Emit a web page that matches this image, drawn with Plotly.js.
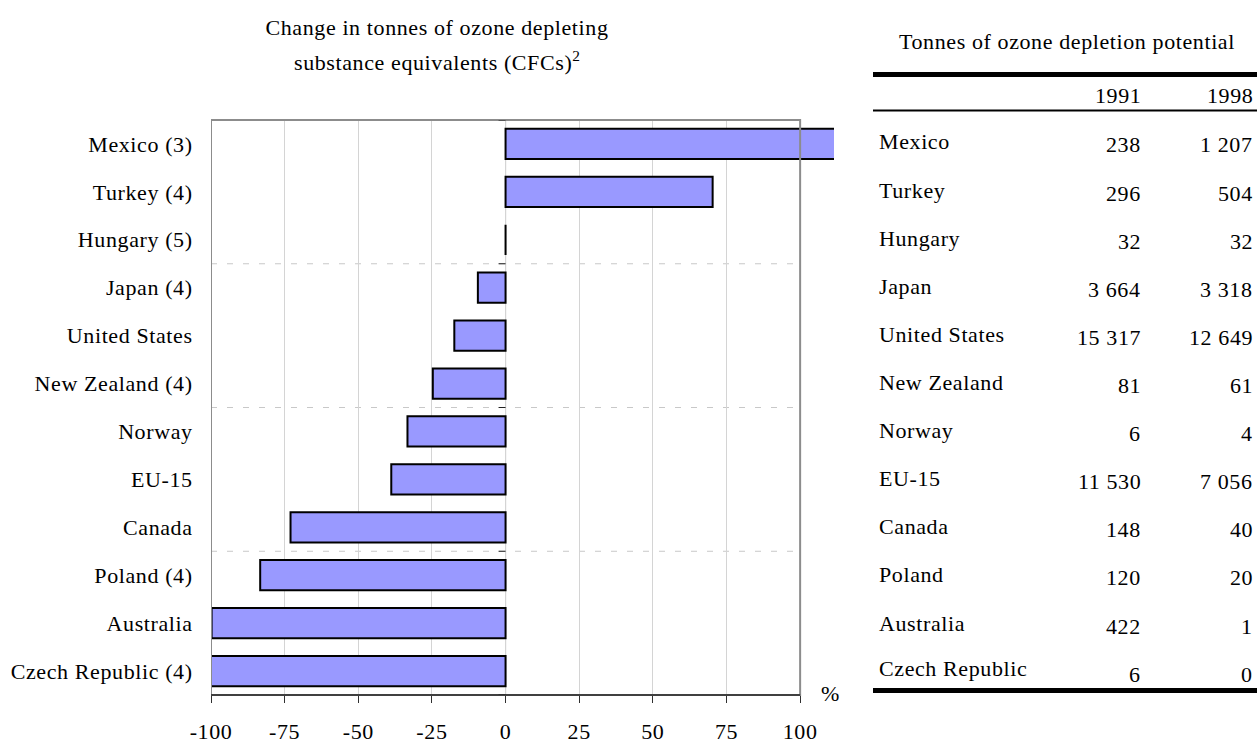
<!DOCTYPE html>
<html>
<head>
<meta charset="utf-8">
<script src="https://cdn.plot.ly/plotly-3.0.1.min.js"></script>
<style>
html,body{margin:0;padding:0;background:#fff;}
#chart{width:1257px;height:742px;}
svg text{letter-spacing:0.6px;}
</style>
</head>
<body>
<div id="chart"></div>
<script>
// Chart data
const barLabels = ["Mexico (3)", "Turkey (4)", "Hungary (5)", "Japan (4)", "United States", "New Zealand (4)",
                   "Norway", "EU-15", "Canada", "Poland (4)", "Australia", "Czech Republic (4)"];
const changePct = [407, 70.3, 0, -9.4, -17.4, -24.7, -33.3, -38.8, -73.0, -83.3, -99.8, -100];
const xTickVals = [-100, -75, -50, -25, 0, 25, 50, 75, 100];
const xTickText = ["-100", "-75", "-50", "-25", "0", "25", "50", "75", "100"];

// Table data
const tableCountries = ["Mexico", "Turkey", "Hungary", "Japan", "United States", "New Zealand",
                        "Norway", "EU-15", "Canada", "Poland", "Australia", "Czech Republic"];
const tonnes1991 = ["238", "296", "32", "3 664", "15 317", "81", "6", "11 530", "148", "120", "422", "6"];
const tonnes1998 = ["1 207", "504", "32", "3 318", "12 649", "61", "4", "7 056", "40", "20", "1", "0"];
const tableYears = ["1991", "1998"];
const separators = [2.5, 5.5, 8.5];

const FONT = "Liberation Serif, Times New Roman, serif";
const FS = 22;
const idx = barLabels.map((_, i) => i);

// pixel helpers for placement outside the plot area
const L = 211, R = 834, T = 120, B = 695;
const px = v => (v - L) / (R - L);
const py = v => (B - v) / (B - T);
const rowStep = 48.1;

const trace = {
  type: "bar",
  orientation: "h",
  y: idx,
  x: changePct,
  width: 0.63,
  marker: {color: "#9999FF", line: {color: "#000000", width: 2}},
  hoverinfo: "x+text",
  text: barLabels,
  textposition: "none"
};

const shapes = [];
// frame (from -100 to 100)
shapes.push({type: "rect", xref: "x", yref: "paper", x0: -100, x1: 100, y0: 0, y1: 1,
             line: {color: "#8c8c8c", width: 2}, layer: "above"});
// bottom axis line
shapes.push({type: "line", xref: "x", yref: "paper", x0: -100, x1: 100, y0: 0, y1: 0,
             line: {color: "#404040", width: 2}, layer: "above"});
// zero axis
shapes.push({type: "line", xref: "x", yref: "paper", x0: 0, x1: 0, y0: 0, y1: 1,
             line: {color: "#404040", width: 1}, layer: "below"});
// dashed category separators
separators.forEach(s => {
  shapes.push({type: "line", xref: "x", yref: "y", x0: -100, x1: 100, y0: s, y1: s,
               line: {color: "#c8c8c8", width: 1, dash: "6px,10px"}, layer: "below"});
});
// ticks on zero axis at separators and ends
[-0.5].concat(separators).concat([11.5]).forEach(s => {
  shapes.push({type: "line", xref: "x", yref: "y", xsizemode: "pixel", xanchor: 0, x0: -7, x1: 0,
               y0: s, y1: s, line: {color: "#202020", width: 1}});
});
// table rules
shapes.push({type: "line", xref: "paper", yref: "paper", x0: px(873), x1: px(1257), y0: py(74.5), y1: py(74.5),
             line: {color: "#000", width: 5}});
shapes.push({type: "line", xref: "paper", yref: "paper", x0: px(873), x1: px(1257), y0: py(110.5), y1: py(110.5),
             line: {color: "#000", width: 2}});
shapes.push({type: "line", xref: "paper", yref: "paper", x0: px(873), x1: px(1257), y0: py(690.5), y1: py(690.5),
             line: {color: "#000", width: 5}});

const tf = {family: FONT, size: FS, color: "#000"};
const annotations = [];
annotations.push({text: "substance equivalents (CFCs)<sup>2</sup>", xref: "paper", yref: "paper",
                  x: px(437), y: py(61), xanchor: "center", yanchor: "middle", showarrow: false, font: tf});
annotations.push({text: "Tonnes of ozone depletion potential", xref: "paper", yref: "paper",
                  x: px(1067), y: py(41), xanchor: "center", yanchor: "middle", showarrow: false, font: tf});
annotations.push({text: tableYears[0], xref: "paper", yref: "paper", x: px(1143), y: py(95),
                  xanchor: "right", yanchor: "middle", showarrow: false, font: tf});
annotations.push({text: tableYears[1], xref: "paper", yref: "paper", x: px(1255), y: py(95),
                  xanchor: "right", yanchor: "middle", showarrow: false, font: tf});
tableCountries.forEach((c, i) => {
  const nameY = (i === tableCountries.length - 1) ? 142 + i * rowStep - 2.5 : 142 + i * rowStep;
  const valY = 145 + i * rowStep;
  annotations.push({text: c, xref: "paper", yref: "paper", x: px(877), y: py(nameY),
                    xanchor: "left", yanchor: "middle", showarrow: false, font: tf});
  annotations.push({text: tonnes1991[i], xref: "paper", yref: "paper", x: px(1143), y: py(valY),
                    xanchor: "right", yanchor: "middle", showarrow: false, font: tf});
  annotations.push({text: tonnes1998[i], xref: "paper", yref: "paper", x: px(1255), y: py(valY),
                    xanchor: "right", yanchor: "middle", showarrow: false, font: tf});
});
annotations.push({text: "%", xref: "paper", yref: "paper", x: px(830), y: py(693),
                  xanchor: "center", yanchor: "middle", showarrow: false, font: tf});

const layout = {
  width: 1257, height: 742,
  margin: {l: L, r: 1257 - R, t: T, b: 742 - B},
  paper_bgcolor: "#fff", plot_bgcolor: "#fff",
  showlegend: false,
  font: tf,
  title: {
    text: "Change in tonnes of ozone depleting",
    font: tf,
    xref: "paper", x: px(437), xanchor: "center",
    yref: "container", y: 1 - 27 / 742, yanchor: "middle"
  },
  xaxis: {
    range: [-100, 111.5],
    tickvals: xTickVals, ticktext: xTickText,
    showgrid: true, gridcolor: "#d4d4d4", gridwidth: 1,
    zeroline: false, showline: false,
    ticks: "outside", ticklen: 7, tickwidth: 1, tickcolor: "#303030",
    ticklabelstandoff: 10,
    tickfont: tf,
    fixedrange: true
  },
  yaxis: {
    range: [11.5, -0.5],
    tickvals: idx, ticktext: barLabels,
    showgrid: false, zeroline: false, showline: false,
    ticks: "outside", ticklen: 13, tickcolor: "rgba(0,0,0,0)",
    tickfont: tf,
    fixedrange: true
  },
  shapes: shapes,
  annotations: annotations
};

Plotly.newPlot("chart", [trace], layout, {displayModeBar: false, staticPlot: true});
</script>
</body>
</html>
